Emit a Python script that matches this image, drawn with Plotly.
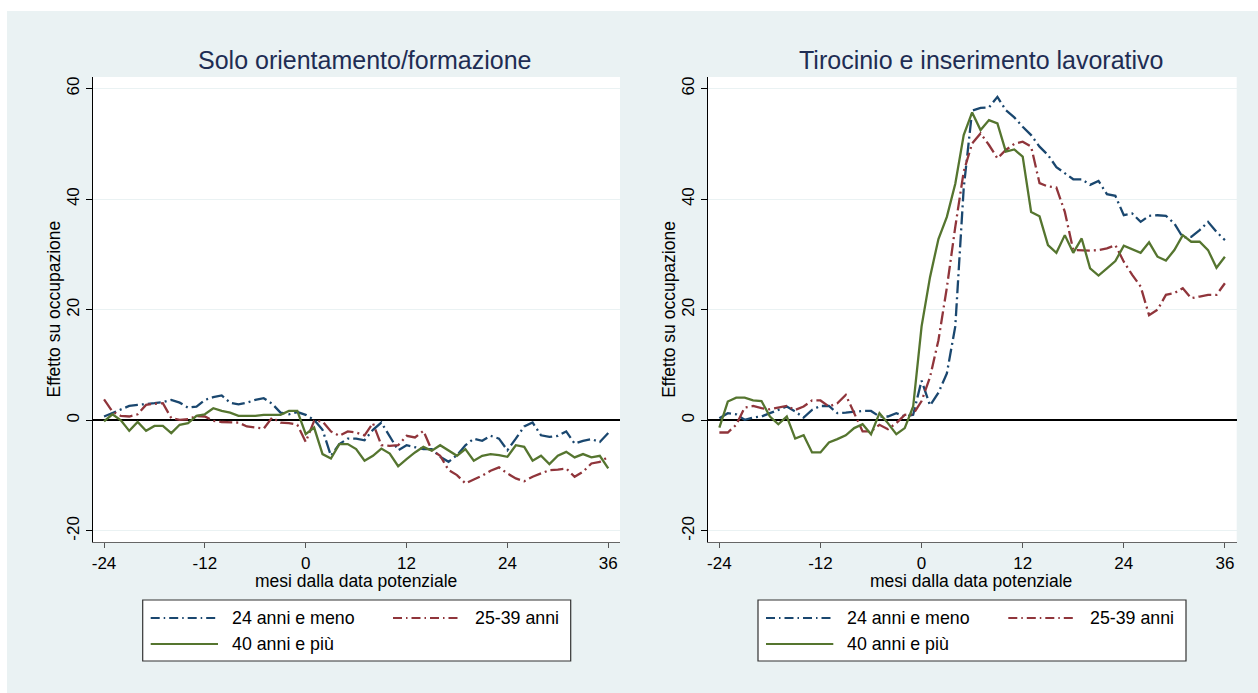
import plotly.graph_objects as go

W, H = 1258, 693

months = list(range(-24, 37))
x_ticks = [-24, -12, 0, 12, 24, 36]
x_tick_labels = ["-24", "-12", "0", "12", "24", "36"]
y_ticks = [-20, 0, 20, 40, 60]
y_tick_labels = ["-20", "0", "20", "40", "60"]

panel_titles = ["Solo orientamento/formazione", "Tirocinio e inserimento lavorativo"]
series_names = ["24 anni e meno", "25-39 anni", "40 anni e più"]
x_title = "mesi dalla data potenziale"
y_title = "Effetto su occupazione"

# Panel 1: Solo orientamento/formazione
left_young = [0.7, 1.3, 1.9, 2.6, 2.8, 2.9, 3.1, 3.3, 3.7, 3.2, 2.3, 2.5, 3.7, 4.2, 4.5, 3.2,
              2.9, 3.2, 3.7, 4.0, 3.0, 1.4, 1.1, 1.5, 1.0, 0.1, -1.7, -6.4, -4.3, -3.3, -3.3,
              -3.6, -1.7, -0.4, -3.0, -5.4, -4.5, -4.9, -5.2, -5.2, -6.6, -7.5, -6.3, -4.5, -3.3,
              -3.7, -2.8, -3.3, -5.4, -3.3, -1.1, -0.4, -2.7, -3.0, -2.8, -2.0, -4.2, -3.7, -3.4,
              -3.9, -2.3]
left_mid = [3.8, 1.6, 0.8, 0.7, 1.1, 2.8, 3.0, 3.1, 0.4, 0.1, 0.2, 0.8, 0.7, -0.1, -0.3, -0.4,
            -0.4, -1.1, -1.3, -1.5, 0.5, -0.4, -0.5, -0.8, -3.9, -0.1, -0.2, -2.0, -2.8, -2.0, -2.2,
            -2.7, -0.5, -4.5, -4.6, -4.5, -2.8, -3.1, -1.9, -5.4, -6.4, -9.0, -9.9, -11.4, -10.7,
            -10.0, -9.1, -8.5, -9.6, -10.5, -11.0, -10.2, -9.6, -9.0, -8.9, -8.7, -10.2, -9.3, -7.8,
            -7.5, -6.6]
left_old = [-0.2, 1.1, 0.0, -1.9, -0.3, -1.9, -1.0, -1.0, -2.3, -0.8, -0.5, 0.8, 1.1, 2.2, 1.7, 1.4,
            0.8, 0.8, 0.8, 1.0, 1.0, 1.0, 1.7, 1.7, -2.5, -1.3, -6.1, -6.9, -4.3, -4.3, -5.2,
            -7.3, -6.4, -5.1, -6.0, -8.3, -7.0, -5.8, -4.8, -5.5, -4.5, -5.4, -6.4, -5.2, -7.3,
            -6.4, -6.1, -6.3, -6.6, -4.5, -4.8, -7.3, -6.4, -7.9, -6.4, -5.7, -6.7, -6.1, -6.7,
            -6.4, -8.7]

# Panel 2: Tirocinio e inserimento lavorativo
right_young = [0.4, 1.3, 1.1, 0.1, 0.5, 0.7, 1.3, 1.9, 2.5, 1.6, 0.5, 1.9, 2.6, 2.6, 1.3, 1.4,
               1.6, 1.7, 1.7, 0.7, 0.7, 1.3, 0.7, 1.0, 7.2, 2.7, 5.0, 8.5, 17.0, 42.0, 56.0,
               56.5, 56.6, 58.5, 56.1, 54.8, 53.1, 51.6, 49.5, 48.0, 45.8, 44.7, 43.6, 43.6, 42.6,
               43.3, 40.9, 40.6, 37.1, 37.4, 35.9, 37.0, 37.1, 37.0, 35.6, 33.1, 33.2, 34.4, 35.9,
               34.1, 32.6]
right_mid = [-2.2, -2.2, -0.8, 2.3, 2.6, 2.2, 2.0, 2.3, 2.6, 1.9, 2.5, 3.6, 3.6, 2.5, 3.1, 4.6,
             1.3, -2.0, -2.0, -0.8, -1.6, -0.5, 1.0, 1.1, 3.5, 7.8, 14.5, 24.0, 35.0, 45.0, 50.1,
             51.9, 49.8, 47.4, 48.9, 50.0, 50.4, 49.5, 42.9, 42.3, 42.1, 37.7, 30.8, 30.7, 30.7,
             30.8, 31.1, 31.7, 28.7, 26.3, 24.2, 19.0, 20.0, 22.7, 23.0, 23.9, 22.1, 22.4, 22.7,
             22.7, 24.8]
right_old = [-1.3, 3.4, 4.1, 4.1, 3.6, 3.5, 0.7, -0.7, 0.7, -3.3, -2.7, -5.8, -5.8, -4.0, -3.4, -2.7,
             -1.4, -0.7, -2.5, 1.3, -0.5, -2.5, -1.4, 2.5, 17.0, 25.9, 32.8, 36.8, 42.8, 51.6, 55.7,
             52.5, 54.3, 53.7, 48.6, 49.0, 47.7, 37.7, 36.9, 31.7, 30.3, 33.5, 30.3, 32.9, 27.5,
             26.2, 27.5, 28.8, 31.6, 31.0, 30.3, 32.2, 29.6, 28.9, 30.8, 33.5, 32.3, 32.3, 30.8,
             27.6, 29.6]

colors = ["#1a476f", "#90353b", "#55752f"]
plot_dashes = ["13px,4px,2px,4px", "13px,4px,2px,4px", "solid"]
legend_dashes = ["9px,4px,1.5px,4px", "9px,4px,1.5px,4px", "solid"]
BG = "#eaf2f3"
FONT = "Arial, Liberation Sans, sans-serif"
TICK_SIZE = 17

def px(x):
    return x / W

def py(y):
    return 1 - y / H

fig = go.Figure()

panels = [(left_young, left_mid, left_old), (right_young, right_mid, right_old)]
plot_left = [92.7, 708.0]
plot_right = [620.0, 1236.7]
plot_top, plot_bottom = 77.0, 542.0

for p, data in enumerate(panels):
    xa = "x" if p == 0 else "x2"
    ya = "y" if p == 0 else "y2"
    for s, vals in enumerate(data):
        fig.add_trace(go.Scatter(
            x=months, y=vals, mode="lines", name=series_names[s],
            line=dict(color=colors[s], width=2.3, dash=plot_dashes[s]),
            xaxis=xa, yaxis=ya, showlegend=False, hoverinfo="skip"))

axis_common_x = dict(
    range=[-25.35, 37.4], tickmode="array", tickvals=x_ticks, ticktext=x_tick_labels,
    ticks="outside", ticklen=5, tickwidth=1, tickcolor="#555",
    showline=True, linecolor="#666", linewidth=1.2,
    showgrid=False, zeroline=False, automargin=False,
    tickfont=dict(family=FONT, size=TICK_SIZE, color="black"))
axis_common_y = dict(
    range=[-22.0, 62.1], tickmode="array", tickvals=y_ticks, ticktext=y_tick_labels, tickangle=-90,
    ticks="outside", ticklen=6, tickwidth=1, tickcolor="black",
    showline=True, linecolor="black", linewidth=1.2,
    showgrid=True, gridcolor=BG, gridwidth=1.2,
    zeroline=True, zerolinecolor="black", zerolinewidth=1.5,
    automargin=False,
    tickfont=dict(family=FONT, size=TICK_SIZE, color="black"))

ydom = [py(plot_bottom), py(plot_top)]
fig.update_layout(
    xaxis=dict(domain=[px(plot_left[0]), px(plot_right[0])], anchor="y", **axis_common_x),
    yaxis=dict(domain=ydom, anchor="x", **axis_common_y),
    xaxis2=dict(domain=[px(plot_left[1]), px(plot_right[1])], anchor="y2", **axis_common_x),
    yaxis2=dict(domain=ydom, anchor="x2", **axis_common_y),
)

shapes = []
annotations = []

# white outer border
shapes.append(dict(type="rect", xref="paper", yref="paper", x0=0, x1=px(7), y0=0, y1=1,
                   fillcolor="white", line=dict(width=0), layer="below"))
shapes.append(dict(type="rect", xref="paper", yref="paper", x0=0, x1=1, y0=py(11), y1=1,
                   fillcolor="white", line=dict(width=0), layer="below"))

title_cx = [365, 981]
for p in range(2):
    off = plot_left[p] - plot_left[0]
    annotations.append(dict(text=panel_titles[p], x=px(title_cx[p]), y=py(60), xref="paper", yref="paper",
                            xanchor="center", yanchor="middle", showarrow=False,
                            font=dict(family=FONT, size=25, color="#1e2d53")))
    annotations.append(dict(text=x_title, x=px(356 + off), y=py(581), xref="paper", yref="paper",
                            xanchor="center", yanchor="middle", showarrow=False,
                            font=dict(family=FONT, size=17.5, color="black")))
    annotations.append(dict(text=y_title, x=px(53 + off), y=py(309.5), xref="paper", yref="paper",
                            xanchor="center", yanchor="middle", showarrow=False, textangle=-90,
                            font=dict(family=FONT, size=17.5, color="black")))
    # legend box
    bx0, bx1 = 142.7 + off, 570.7 + off
    shapes.append(dict(type="rect", xref="paper", yref="paper", x0=px(bx0), x1=px(bx1),
                       y0=py(661), y1=py(600), fillcolor="white",
                       line=dict(color="#333", width=1.2)))
    slots = [(150.7, 218, 230, 618), (393, 460, 473, 618), (150.7, 218, 230, 644)]
    for s in range(3):
        lx0, lx1, tx, ty = slots[s]
        shapes.append(dict(type="line", xref="paper", yref="paper",
                           x0=px(lx0 + off), x1=px(lx1 + off), y0=py(ty), y1=py(ty),
                           line=dict(color=colors[s], width=1.8, dash=legend_dashes[s])))
        annotations.append(dict(text=series_names[s], x=px(tx + off), y=py(ty), xref="paper", yref="paper",
                                xanchor="left", yanchor="middle", showarrow=False,
                                font=dict(family=FONT, size=17.8, color="black")))

fig.update_layout(
    width=W, height=H, margin=dict(l=0, r=0, t=0, b=0, pad=0),
    paper_bgcolor=BG, plot_bgcolor="white",
    showlegend=False, shapes=shapes, annotations=annotations,
    font=dict(family=FONT, size=TICK_SIZE, color="black"),
)

fig.write_html("out.html")
